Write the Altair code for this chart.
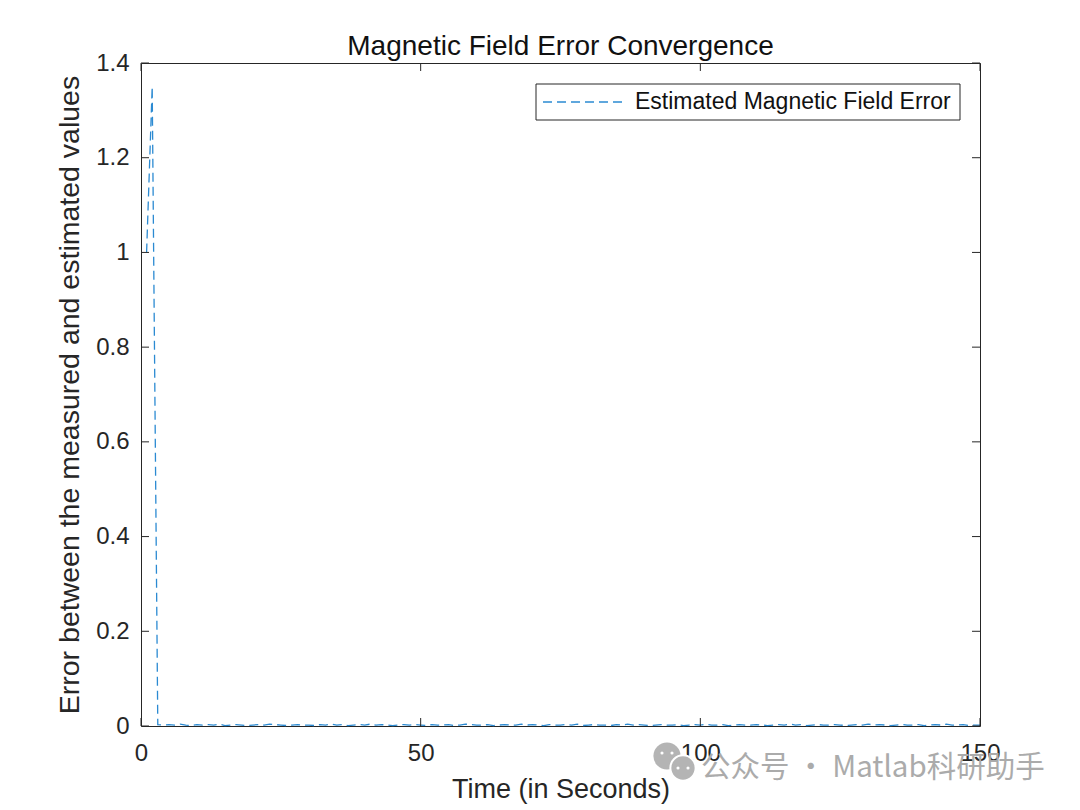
import altair as alt
import pandas as pd

# ---- data ----
error_values = [
    1.0, 1.35, 0.003, 0.002, 0.003, 0.002, 0.004, 0.002, 0.001, 0.003,
    0.002, 0.003, 0.002, 0.004, 0.001, 0.002, 0.003, 0.002, 0.001, 0.002,
    0.003, 0.002, 0.004, 0.003, 0.002, 0.001, 0.002, 0.003, 0.002, 0.002,
    0.001, 0.003, 0.002, 0.004, 0.002, 0.003, 0.001, 0.002, 0.003, 0.002,
    0.004, 0.002, 0.003, 0.002, 0.001, 0.002, 0.003, 0.002, 0.003, 0.002,
    0.001, 0.003, 0.002, 0.002, 0.003, 0.001, 0.002, 0.004, 0.003, 0.002,
    0.002, 0.003, 0.001, 0.002, 0.003, 0.002, 0.002, 0.004, 0.002, 0.003,
    0.002, 0.001, 0.003, 0.002, 0.002, 0.003, 0.002, 0.004, 0.001, 0.002,
    0.003, 0.002, 0.002, 0.001, 0.003, 0.002, 0.004, 0.002, 0.003, 0.002,
    0.001, 0.002, 0.003, 0.002, 0.002, 0.003, 0.001, 0.002, 0.003, 0.002,
    0.004, 0.002, 0.002, 0.003, 0.001, 0.002, 0.003, 0.002, 0.002, 0.003,
    0.002, 0.001, 0.002, 0.003, 0.002, 0.004, 0.002, 0.003, 0.001, 0.002,
    0.003, 0.002, 0.002, 0.003, 0.002, 0.001, 0.002, 0.003, 0.002, 0.004,
    0.002, 0.003, 0.002, 0.001, 0.002, 0.003, 0.002, 0.002, 0.003, 0.001,
    0.002, 0.003, 0.002, 0.004, 0.002, 0.002, 0.003, 0.001, 0.002, 0.002,
]
time_values = list(range(1, len(error_values) + 1))
x_tick_values = [0, 50, 100, 150]
y_tick_values = [0, 0.2, 0.4, 0.6, 0.8, 1.0, 1.2, 1.4]
series_name = "Estimated Magnetic Field Error"
chart_title = "Magnetic Field Error Convergence"
x_title = "Time (in Seconds)"
y_title = "Error between the measured and estimated values"
watermark_text = "公众号 · Matlab科研助手"

# ---- style ----
W, H = 839, 663
FONT = "Liberation Sans"
AX = "#262626"
LINE = "#2b8ad2"
DASH = [9, 5]

df = pd.DataFrame({"t": time_values, "err": error_values, "series": series_name})
xticks_df = pd.DataFrame({"t": x_tick_values})
yticks_df = pd.DataFrame({"err": y_tick_values})
one_df = pd.DataFrame({"label": [series_name]})
title_df = pd.DataFrame({"label": [chart_title]})
wm_df = pd.DataFrame({"label": [watermark_text]})

xscale = alt.Scale(domain=[0, 150], nice=False, zero=False)
yscale = alt.Scale(domain=[0, 1.4], nice=False, zero=False)

xaxis = alt.Axis(
    values=x_tick_values, title=x_title, grid=False, domain=False, ticks=False, tickSize=0,
    labelPadding=15, labelFontSize=24, labelFont=FONT, labelColor="#262626",
    labelFlush=False, labelOverlap=False,
    titleFontSize=27, titleFont=FONT, titleFontWeight="normal", titleColor="#262626",
    titleX=W / 2, titleY=71, titleBaseline="alphabetic", titleAlign="center",
)
yaxis = alt.Axis(
    values=y_tick_values, format="~g", title=y_title, grid=False, domain=False, ticks=False,
    tickSize=0, labelPadding=12, labelFontSize=24, labelFont=FONT, labelColor="#262626",
    labelFlush=False, labelOverlap=False,
    titleFontSize=28.5, titleFont=FONT, titleFontWeight="normal", titleColor="#262626",
    titleX=-63, titleY=H / 2, titleAngle=270, titleBaseline="alphabetic", titleAlign="center",
)

X = alt.X("t:Q", scale=xscale, axis=xaxis)
Y = alt.Y("err:Q", scale=yscale, axis=yaxis)

line = alt.Chart(df).mark_line(strokeDash=DASH, strokeWidth=1.3, color=LINE).encode(x=X, y=Y)

tick_len = 8
bottom_ticks = alt.Chart(xticks_df).mark_rule(color=AX, strokeWidth=1).encode(
    x=X, y=alt.value(H), y2=alt.value(H - tick_len))
top_ticks = alt.Chart(xticks_df).mark_rule(color=AX, strokeWidth=1).encode(
    x=X, y=alt.value(0), y2=alt.value(tick_len))
left_ticks = alt.Chart(yticks_df).mark_rule(color=AX, strokeWidth=1).encode(
    y=Y, x=alt.value(0), x2=alt.value(tick_len))
right_ticks = alt.Chart(yticks_df).mark_rule(color=AX, strokeWidth=1).encode(
    y=Y, x=alt.value(W), x2=alt.value(W - tick_len))

# title as a text mark above the plot
title_mark = alt.Chart(title_df).mark_text(
    align="center", baseline="alphabetic", font=FONT, fontSize=28, color="#111111"
).encode(x=alt.value(W / 2), y=alt.value(-8), text="label:N")

# legend box (MATLAB-style, upper right)
legend_box = alt.Chart(one_df).mark_rect(fill="white", stroke=AX, strokeWidth=1).encode(
    x=alt.value(395), x2=alt.value(819), y=alt.value(21), y2=alt.value(57))
legend_line = alt.Chart(one_df).mark_rule(color=LINE, strokeWidth=1.3, strokeDash=DASH).encode(
    x=alt.value(402), x2=alt.value(482), y=alt.value(39))
legend_text = alt.Chart(one_df).mark_text(
    align="left", baseline="middle", font=FONT, fontSize=23, color="#111111"
).encode(x=alt.value(494), y=alt.value(39), text="label:N")

# watermark (icon + text)
WM = "#b4b4b4"
wm_big = alt.Chart(wm_df).mark_point(filled=True, color=WM, opacity=1, size=740).encode(
    x=alt.value(526), y=alt.value(693))
wm_small = alt.Chart(wm_df).mark_point(filled=True, color=WM, opacity=1, size=640,
                                       stroke="white", strokeWidth=2).encode(
    x=alt.value(542), y=alt.value(705))
wm_eyes_df = pd.DataFrame({"label": ["a"]})
wm_eye1 = alt.Chart(wm_eyes_df).mark_point(filled=True, color="white", opacity=1, size=10).encode(
    x=alt.value(521), y=alt.value(690))
wm_eye2 = alt.Chart(wm_eyes_df).mark_point(filled=True, color="white", opacity=1, size=10).encode(
    x=alt.value(531), y=alt.value(690))
wm_eye3 = alt.Chart(wm_eyes_df).mark_point(filled=True, color="white", opacity=1, size=10).encode(
    x=alt.value(537), y=alt.value(705))
wm_eye4 = alt.Chart(wm_eyes_df).mark_point(filled=True, color="white", opacity=1, size=10).encode(
    x=alt.value(547), y=alt.value(705))
wm_text = alt.Chart(wm_df).mark_text(
    align="left", baseline="middle", font="Noto Sans CJK SC", fontSize=29.5, color="#ababab"
).encode(x=alt.value(560), y=alt.value(705), text="label:N")

chart = alt.layer(
    line, bottom_ticks, top_ticks, left_ticks, right_ticks, title_mark,
    legend_box, legend_line, legend_text,
    wm_big, wm_small, wm_eye1, wm_eye2, wm_eye3, wm_eye4, wm_text,
).properties(
    width=W,
    height=H,
    background="white",
    autosize=alt.AutoSizeParams(type="none"),
    padding={"left": 133, "top": 55, "right": 80, "bottom": 90},
).configure_view(stroke=AX, strokeWidth=1)

chart.save("out.html", embed_options={"renderer": "svg", "actions": False})
